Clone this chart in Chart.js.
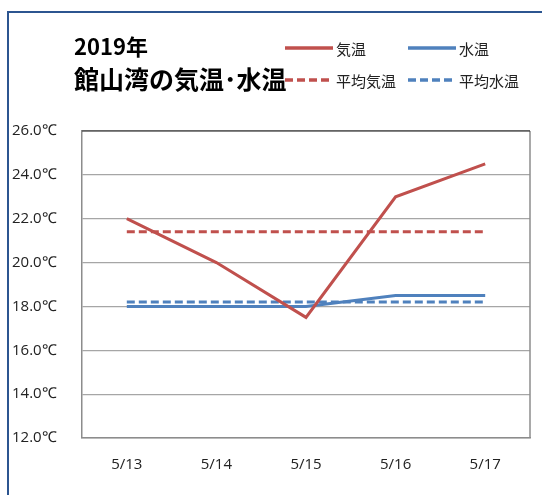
<!DOCTYPE html>
<html>
<head>
<meta charset="utf-8">
<script src="https://cdn.jsdelivr.net/npm/chart.js@4"></script>
<style>
  body { margin: 0; width: 542px; height: 495px; overflow: hidden; background: #fff; position: relative; }
  #frame { position: absolute; left: 7px; top: 11px; width: 700px; height: 700px;
           border-left: 2.5px solid #2c5590; border-top: 2.5px solid #2c5590; }
  #c { position: absolute; left: 0; top: 0; }
  .title { position: absolute; left: 74px; font-family: "Noto Sans CJK JP", sans-serif;
           font-weight: bold; color: #000; white-space: nowrap; }
  #t1 { top: 30px; font-size: 22px; line-height: 30px; }
  #t2 { top: 62px; font-size: 25px; line-height: 32px; }
  #legend { position: absolute; left: 285px; top: 36px; font-family: "Noto Sans CJK JP", sans-serif;
            font-size: 15px; color: #222; display: grid; grid-template-columns: 123px 120px; row-gap: 8px; }
  .item { display: flex; align-items: center; height: 24px; white-space: nowrap; }
  .item svg { margin-right: 3px; }
</style>
</head>
<body>
<div id="frame"></div>
<canvas id="c" width="542" height="495"></canvas>
<div class="title" id="t1">2019年</div>
<div class="title" id="t2">館山湾の気温･水温</div>
<div id="legend"></div>
<script>
var days = ["5/13", "5/14", "5/15", "5/16", "5/17"];
var airTemp = [22.0, 20.0, 17.5, 23.0, 24.5];
var waterTemp = [18.0, 18.0, 18.0, 18.5, 18.5];
var avgAir = [21.4, 21.4, 21.4, 21.4, 21.4];
var avgWater = [18.2, 18.2, 18.2, 18.2, 18.2];
var yMin = 12, yMax = 26, yStep = 2;

var red = "#c0504d";
var blue = "#4f81bd";

// right and top edges of the plot area
var plotFrame = {
    id: "plotFrame",
    beforeDatasetsDraw: function (chart) {
        var a = chart.chartArea, ctx = chart.ctx;
        ctx.save();
        ctx.strokeStyle = "#8c8c8c";
        ctx.lineWidth = 1.5;
        ctx.beginPath();
        ctx.moveTo(a.right, a.top);
        ctx.lineTo(a.right, a.bottom);
        ctx.stroke();
        ctx.strokeStyle = "#222";
        ctx.lineWidth = 1.2;
        ctx.beginPath();
        ctx.moveTo(a.left, a.top);
        ctx.lineTo(a.right, a.top);
        ctx.stroke();
        ctx.restore();
    }
};

var lineData = {
    labels: days,
    datasets: [
        { label: "気温", data: airTemp, borderColor: red, backgroundColor: red, borderWidth: 3 },
        { label: "水温", data: waterTemp, borderColor: blue, backgroundColor: blue, borderWidth: 3 },
        { label: "平均気温", data: avgAir, borderColor: red, backgroundColor: red, borderWidth: 3, borderDash: [8, 4] },
        { label: "平均水温", data: avgWater, borderColor: blue, backgroundColor: blue, borderWidth: 3, borderDash: [8, 4] }
    ]
};

var lineOptions = {
    responsive: false,
    animation: false,
    layout: { padding: { left: 12, top: 131, right: 12, bottom: 0 } },
    elements: { point: { radius: 0 }, line: { tension: 0, borderCapStyle: "butt" } },
    plugins: { legend: { display: false }, title: { display: false }, tooltip: { enabled: false } },
    scales: {
        x: {
            offset: true,
            grid: { display: false },
            border: { display: true, color: "#8c8c8c", width: 1.5 },
            ticks: { padding: 10, color: "#222", font: { family: "Open Sans", size: 15 } },
            afterFit: function (s) { s.height = 57; }
        },
        y: {
            min: yMin, max: yMax,
            grid: { color: "#a6a6a6", lineWidth: 1.2, drawTicks: false },
            border: { display: true, color: "#8c8c8c", width: 1.5 },
            ticks: {
                stepSize: yStep, crossAlign: "far", color: "#222",
                font: { family: "Open Sans", size: 15 },
                callback: function (v) { return v.toFixed(1) + "℃"; }
            },
            afterFit: function (s) { s.width = 70; }
        }
    }
};

var ctx = document.getElementById("c").getContext("2d");
var chart = new Chart(ctx, { type: "line", data: lineData, options: lineOptions, plugins: [plotFrame] });

// legend built from the datasets
var legend = document.getElementById("legend");
chart.data.datasets.forEach(function (ds) {
    var dash = ds.borderDash ? ds.borderDash.join(",") : "none";
    var item = document.createElement("div");
    item.className = "item";
    item.innerHTML = '<svg width="48" height="6"><line x1="0" y1="3" x2="48" y2="3" stroke="' + ds.borderColor +
        '" stroke-width="3.5" stroke-dasharray="' + dash + '"/></svg>' + ds.label;
    legend.appendChild(item);
});
</script>
</body>
</html>
